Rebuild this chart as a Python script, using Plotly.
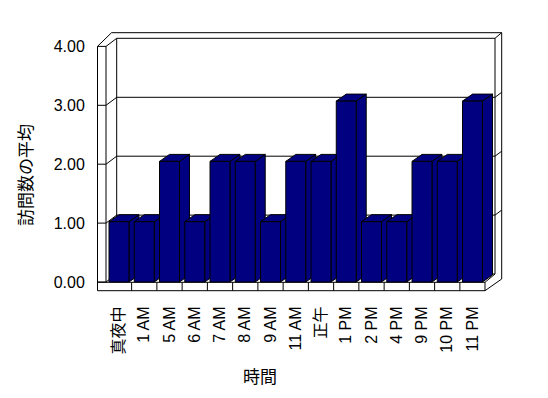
import plotly.graph_objects as go

# ---------------- data ----------------
categories = ["真夜中", "1 AM", "5 AM", "6 AM", "7 AM", "8 AM", "9 AM", "11 AM",
              "正午", "1 PM", "2 PM", "4 PM", "9 PM", "10 PM", "11 PM"]
values = [1, 1, 2, 1, 2, 2, 1, 2, 2, 3, 1, 1, 2, 2, 3]
y_ticks = [0, 1, 2, 3, 4]
y_tick_labels = ["0.00", "1.00", "2.00", "3.00", "4.00"]
y_title = "訪問数の平均"
x_title = "時間"

# ---------------- geometry (page pixels) ----------------
PAGE_W, PAGE_H = 548, 398
OFF = 8                                    # default body margin of the page
PL, PR, PT, PB = 95, 506, 30, 295          # plot area
X0, DX = 119.0, 25.25                      # category 0 centre, px per category
BAR_Y0, BAR_DY = 282.0, 60.3               # bar value scale
AX_Y0, AX_DY = 282.0, 58.9                 # front axis scale
BACK_Y0 = 274.0                            # back wall value 0
BAR_W = 0.79
DEPTH_X, DEPTH_Y = 10.0, 7.0

NAVY = "#000080"
FONT = "Arial, 'Liberation Sans', 'Noto Sans CJK JP', sans-serif"


def cx(px):
    return (px - X0) / DX


def vy(py):
    return (BAR_Y0 - py) / BAR_DY


n = len(categories)
idx = list(range(n))
ddx = DEPTH_X / DX
ddy = DEPTH_Y / BAR_DY

# side and top faces of the 3D bars
side_x, side_y, top_x, top_y = [], [], [], []
for i, v in zip(idx, values):
    xl, xr = i - BAR_W / 2, i + BAR_W / 2
    side_x += [xr, xr, xr + ddx, xr + ddx, xr, None]
    side_y += [0, v, v + ddy, ddy, 0, None]
    top_x += [xl, xr, xr + ddx, xl + ddx, xl, None]
    top_y += [v, v, v + ddy, v + ddy, v, None]

fig = go.Figure()
fig.add_trace(go.Scatter(x=side_x, y=side_y, mode="lines", fill="toself",
                         fillcolor=NAVY, line=dict(color="black", width=1),
                         hoverinfo="skip", showlegend=False))
fig.add_trace(go.Scatter(x=top_x, y=top_y, mode="lines", fill="toself",
                         fillcolor=NAVY, line=dict(color="black", width=1),
                         hoverinfo="skip", showlegend=False))
fig.add_trace(go.Bar(x=idx, y=values, width=BAR_W, yaxis="y2",
                     marker=dict(color=NAVY, line=dict(color="black", width=1)),
                     hovertext=categories, showlegend=False))
# invisible helper trace to show the front-axis tick labels
fig.add_trace(go.Scatter(x=[idx[0]], y=[y_ticks[0]], yaxis="y3", mode="markers",
                         marker=dict(opacity=0), hoverinfo="skip", showlegend=False))

# ---------------- walls / floor / gridlines ----------------
lines = []


def L(x1, y1, x2, y2):
    lines.append(dict(type="line", xref="x", yref="y", layer="below",
                      x0=cx(x1), y0=vy(y1), x1=cx(x2), y1=vy(y2),
                      line=dict(color="black", width=1)))


OUT_L, IN_L, BACK_L = 97.5, 106.0, 116.7
IN_R, OUT_R = 495.0, 501.7
TOP_OUT, TOP_IN = 32.7, 38.3
FL_TOP, FL_BOT, FL_R = 282.3, 290.7, 485.0
yf = lambda v: AX_Y0 - AX_DY * v
yb = lambda v: BACK_Y0 - AX_DY * v

# left wall
L(OUT_L, yf(4), OUT_L, FL_BOT)
L(IN_L, yf(4), IN_L, FL_TOP)
L(OUT_L, yf(4), IN_L, yf(4))
L(OUT_L, yf(4), 111.5, TOP_OUT)
L(IN_L, yf(4), BACK_L, TOP_IN)
L(BACK_L, TOP_IN, BACK_L, yb(0))
for v in y_ticks[:-1]:
    L(OUT_L, yf(v), IN_L, yf(v))
    L(IN_L, yf(v), BACK_L, yb(v))
# back wall
L(111.5, TOP_OUT, OUT_R, TOP_OUT)
L(BACK_L, TOP_IN, IN_R, TOP_IN)
L(IN_R, TOP_IN, OUT_R, TOP_OUT)
L(IN_R, TOP_IN, IN_R, yb(0))
L(OUT_R, TOP_OUT, OUT_R, 279.0)
for v in y_ticks[:-1]:
    L(BACK_L, yb(v), IN_R, yb(v))
    if v > 0:
        L(IN_R, yb(v), OUT_R, yb(v) - 5)
# floor
L(OUT_L, FL_TOP, FL_R, FL_TOP)
L(OUT_L, FL_BOT, FL_R, FL_BOT)
L(FL_R, FL_TOP, FL_R, FL_BOT)
L(FL_R, FL_TOP, IN_R, yb(0))
L(FL_R, FL_BOT, OUT_R, 279.0)
for i in idx[:-1]:
    xp = X0 + DX * (i + 0.5)
    L(xp, FL_TOP, xp, FL_BOT)

yr = [vy(PB), vy(PT)]
y3r = [(AX_Y0 - PB) / AX_DY, (AX_Y0 - PT) / AX_DY]


def px_paper_x(px):
    return (px - PL) / (PR - PL)


def px_paper_y(py):
    return (PB - py) / (PB - PT)


fig.update_layout(
    width=PAGE_W - OFF, height=PAGE_H - OFF,
    margin=dict(l=PL - OFF, r=PAGE_W - PR, t=PT - OFF, b=PAGE_H - PB, pad=0),
    paper_bgcolor="white", plot_bgcolor="white",
    font=dict(family=FONT, size=16, color="black"),
    showlegend=False,
    shapes=lines,
    xaxis=dict(range=[cx(PL), cx(PR)], tickvals=idx, ticktext=categories,
               tickangle=-90, showgrid=False, zeroline=False, showline=False,
               ticks="outside", ticklen=4, tickcolor="rgba(0,0,0,0)",
               tickfont=dict(size=16), fixedrange=True),
    yaxis=dict(range=yr, visible=False, fixedrange=True),
    yaxis2=dict(range=yr, overlaying="y", visible=False, fixedrange=True),
    yaxis3=dict(range=y3r, overlaying="y", side="left", anchor="x",
                tickvals=y_ticks, ticktext=y_tick_labels, showgrid=False,
                zeroline=False, showline=False, ticks="outside", ticklen=6,
                tickcolor="rgba(0,0,0,0)", tickfont=dict(size=16), fixedrange=True),
    annotations=[
        dict(text=y_title, xref="paper", yref="paper", x=px_paper_x(26),
             y=px_paper_y(175), textangle=-90, showarrow=False,
             font=dict(size=17), xanchor="center", yanchor="middle"),
        dict(text=x_title, xref="paper", yref="paper", x=px_paper_x(260),
             y=px_paper_y(377), showarrow=False, font=dict(size=17),
             xanchor="center", yanchor="middle"),
    ],
)

fig.write_html("out.html")
